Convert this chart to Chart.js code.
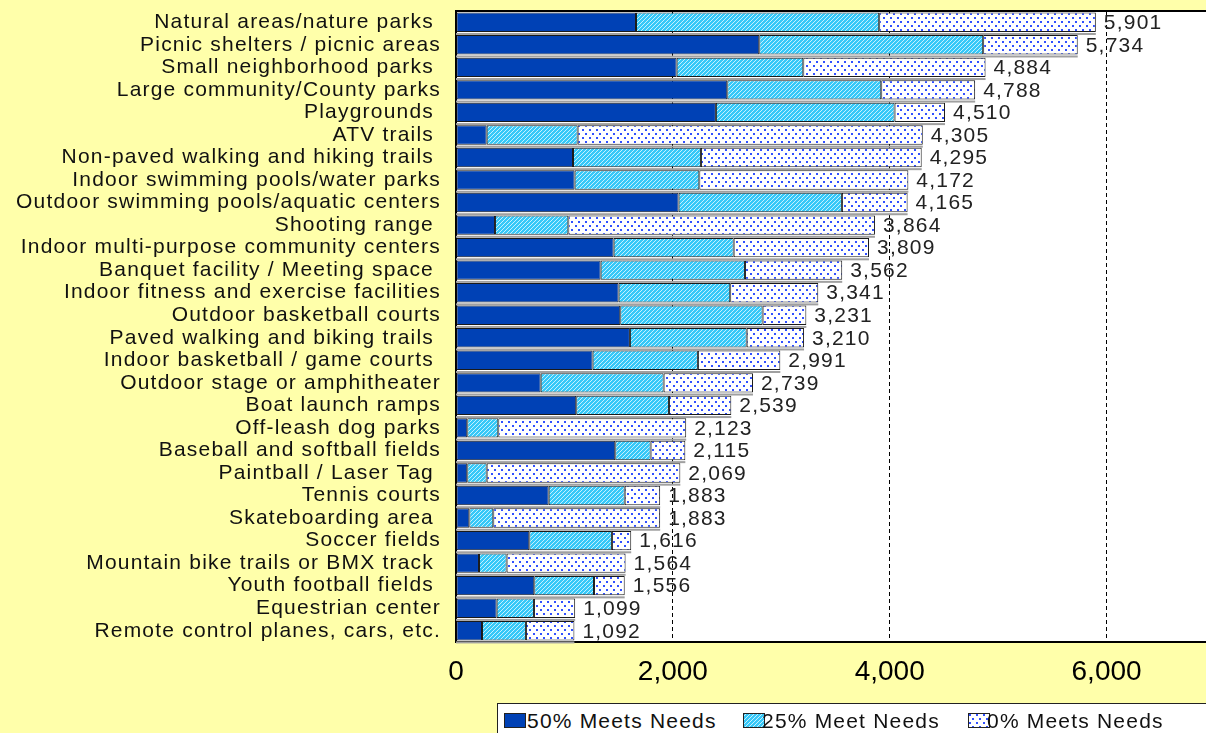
<!DOCTYPE html>
<html><head><meta charset="utf-8">
<script src="https://cdn.jsdelivr.net/npm/chart.js@4.4.1/dist/chart.umd.min.js"></script>
<style>
html,body{margin:0;padding:0;width:1206px;height:733px;overflow:hidden;background:#ffffaa;}
#wrap{position:absolute;left:0;top:0;width:1216px;height:745px;}
#legend{position:absolute;left:497px;top:703px;width:760px;height:42px;background:#fff;border:1px solid #222;box-sizing:border-box;}
.sw{position:absolute;top:9px;}
.lt{position:absolute;top:5px;font-family:"Liberation Sans",Arial,sans-serif;font-size:21px;letter-spacing:1.2px;line-height:24px;color:#111;white-space:nowrap;}
</style></head>
<body>
<div id="wrap"><canvas id="c" width="1216" height="745"></canvas></div>
<div id="legend"></div>
<script>
// ---- data ----
const categories = [
  "Natural areas/nature parks ",
  "Picnic shelters / picnic areas",
  "Small neighborhood parks ",
  "Large community/County parks",
  "Playgrounds ",
  "ATV trails ",
  "Non-paved walking and hiking trails ",
  "Indoor swimming pools/water parks",
  "Outdoor swimming pools/aquatic centers",
  "Shooting range ",
  "Indoor multi-purpose community centers",
  "Banquet facility / Meeting space ",
  "Indoor fitness and exercise facilities",
  "Outdoor basketball courts",
  "Paved walking and biking trails ",
  "Indoor basketball / game courts ",
  "Outdoor stage or amphitheater",
  "Boat launch ramps",
  "Off-leash dog parks",
  "Baseball and softball fields",
  "Paintball / Laser Tag ",
  "Tennis courts",
  "Skateboarding area ",
  "Soccer fields",
  "Mountain bike trails or BMX track ",
  "Youth football fields ",
  "Equestrian center",
  "Remote control planes, cars, etc."
];
const meets50 = [1660,2797,2035,2502,2397,283,1079,1094,2053,360,1454,1334,1500,1515,1604,1260,781,1109,104,1469,104,855,123,676,212,722,375,240];
const meets25 = [2243,2065,1168,1420,1648,839,1180,1150,1506,676,1107,1331,1029,1313,1077,971,1134,855,286,326,179,701,221,762,255,551,344,405];
const meets0  = [1998,872,1681,866,465,3183,2036,1928,606,2828,1248,897,812,403,529,760,824,575,1733,320,1786,327,1539,178,1097,283,380,447];
const totals  = [5901,5734,4884,4788,4510,4305,4295,4172,4165,3864,3809,3562,3341,3231,3210,2991,2739,2539,2123,2115,2069,1883,1883,1616,1564,1556,1099,1092];
const xTicks = [0,2000,4000,6000];
const seriesNames = ["50% Meets Needs","25% Meet Needs","0% Meets Needs"];

const FONT = '"Liberation Sans", Arial, sans-serif';
const SPACING = '1.2px';

// ---- fills ----
function tile(w,h,draw){const c=document.createElement('canvas');c.width=w;c.height=h;draw(c.getContext('2d'));return c;}
const solidTile = tile(4,4,g=>{g.fillStyle='#0041b5';g.fillRect(0,0,4,4);});
const hatchTile = tile(4,4,g=>{g.fillStyle='#36c8f8';g.fillRect(0,0,4,4);g.fillStyle='#c4f0ff';for(let i=0;i<4;i++)g.fillRect(3-i,i,1,1);});
const dotTile = tile(7,8,g=>{g.fillStyle='#ffffff';g.fillRect(0,0,7,8);g.fillStyle='#3050ff';g.fillRect(1,1,2,2);g.fillRect(4,5,2,2);});
const pctx = document.createElement('canvas').getContext('2d');
const fills = [pctx.createPattern(solidTile,'repeat'), pctx.createPattern(hatchTile,'repeat'), pctx.createPattern(dotTile,'repeat')];

// ---- legend (HTML) ----
const legendPos = [[6,29],[245,264],[470,489]];
const legend = document.getElementById('legend');
seriesNames.forEach((name,i)=>{
  const sw=document.createElement('canvas');sw.width=22;sw.height=15;sw.className='sw';sw.style.left=legendPos[i][0]+'px';
  const g=sw.getContext('2d');g.fillStyle=g.createPattern([solidTile,hatchTile,dotTile][i],'repeat');g.fillRect(0,0,22,15);
  g.strokeStyle='#222';g.lineWidth=1;g.strokeRect(0.5,0.5,21,14);
  legend.appendChild(sw);
  const t=document.createElement('span');t.className='lt';t.style.left=legendPos[i][1]+'px';t.textContent=name;legend.appendChild(t);
});

// ---- plugins ----
const decor = {
  id:'decor',
  beforeLayout(chart){ chart.ctx.letterSpacing = SPACING; },
  afterLayout(chart){
    const xs = chart.scales.x;
    if (xs && !xs._lsPatched){
      const orig = xs.drawLabels.bind(xs);
      xs.drawLabels = function(a){ const c=chart.ctx; const prev=c.letterSpacing; c.letterSpacing='0px'; orig(a); c.letterSpacing=prev; };
      xs._lsPatched = true;
    }
  },
  beforeDraw(chart){
    const {ctx,chartArea:a}=chart;
    ctx.letterSpacing = SPACING;
    ctx.save();ctx.fillStyle='#ffffaa';ctx.fillRect(0,0,chart.width,chart.height);
    ctx.fillStyle='#ffffff';ctx.fillRect(a.left,a.top,a.right-a.left,a.bottom-a.top);ctx.restore();
  },
  beforeDatasetsDraw(chart){
    const {ctx}=chart;const xs=chart.scales.x, ys=chart.scales.y;
    const meta=chart.getDatasetMeta(0);
    ctx.save();ctx.fillStyle='#a0a0a0';
    totals.forEach((t,i)=>{
      const el=meta.data[i];const h=el.height;
      const y=ys.getPixelForValue(i)+h/2+1;
      const x0=xs.getPixelForValue(0), x1=xs.getPixelForValue(t);
      ctx.fillRect(x0,y,x1-x0,2);
    });
    ctx.restore();
  },
  afterDatasetsDraw(chart){
    const {ctx,chartArea:a}=chart;const xs=chart.scales.x, ys=chart.scales.y;
    ctx.save();
    ctx.strokeStyle='#000';ctx.lineWidth=2;ctx.beginPath();ctx.moveTo(a.left,a.top);ctx.lineTo(a.right,a.top);ctx.stroke();
    ctx.letterSpacing = SPACING;
    ctx.font='21px '+FONT;ctx.fillStyle='#222';ctx.textBaseline='middle';ctx.textAlign='left';
    totals.forEach((t,i)=>{
      ctx.fillText(t.toLocaleString('en-US'), xs.getPixelForValue(t)+8, ys.getPixelForValue(i)+1);
    });
    ctx.restore();
  }
};

const mk=(i,data)=>({label:seriesNames[i],data,backgroundColor:fills[i],borderColor:'#1a1a1a',borderWidth:1,borderSkipped:false,categoryPercentage:1,barPercentage:0.86});

new Chart(document.getElementById('c'),{
  type:'bar',
  data:{labels:categories,datasets:[mk(0,meets50),mk(1,meets25),mk(2,meets0)]},
  plugins:[decor],
  options:{
    indexAxis:'y',responsive:false,animation:false,devicePixelRatio:1,
    layout:{padding:{top:11,right:1,left:0,bottom:43}},
    plugins:{legend:{display:false},tooltip:{enabled:false}},
    scales:{
      x:{stacked:true,min:0,max:7000,
        afterBuildTicks(s){s.ticks=xTicks.map(v=>({value:v}));},
        afterFit(s){s.height=60;s.paddingLeft=0;s.paddingRight=0;},
        ticks:{padding:13,color:'#000',font:{family:FONT,size:28},callback:v=>v.toLocaleString('en-US')},
        grid:{drawTicks:false,color:c=>c.tick&&c.tick.value===0?'rgba(0,0,0,0)':'#000',lineWidth:1},
        border:{display:true,color:'#000',width:2,dash:[4,3]}
      },
      y:{stacked:true,
        afterFit(s){s.width=456;s.paddingTop=0;s.paddingBottom=0;},
        ticks:{autoSkip:false,padding:15,color:'#111',font:{family:FONT,size:21,lineHeight:1}},
        grid:{display:false,drawTicks:false},
        border:{display:true,color:'#000',width:2}
      }
    }
  }
});
</script>
</body></html>
